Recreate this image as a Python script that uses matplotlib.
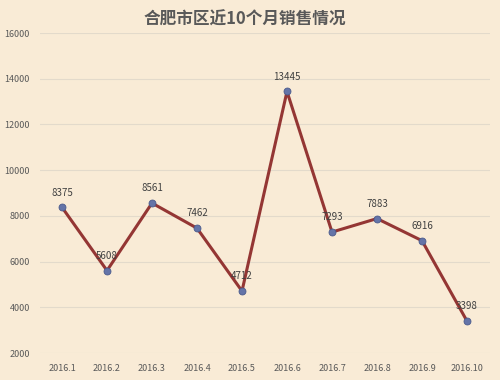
import matplotlib
matplotlib.use("Agg")
import matplotlib.pyplot as plt

plt.rcParams['font.family'] = ['Noto Sans CJK SC', 'DejaVu Sans']

months = ["2016.1", "2016.2", "2016.3", "2016.4", "2016.5",
          "2016.6", "2016.7", "2016.8", "2016.9", "2016.10"]
sales = [8375, 5608, 8561, 7462, 4712, 13445, 7293, 7883, 6916, 3398]
yticks = [2000, 4000, 6000, 8000, 10000, 12000, 14000, 16000]

bg = "#F9EBD6"
text_color = "#595959"

fig = plt.figure(figsize=(5, 3.8), dpi=100, facecolor=bg)
ax = fig.add_axes([0.079, 0.071, 0.9, 0.842], facecolor=bg)

x = list(range(len(months)))
ax.plot(x, sales, color="#943634", linewidth=2.2, marker="o", markersize=5,
        markerfacecolor="#6474A8", markeredgecolor="#4A5A8C", markeredgewidth=0.6,
        zorder=3)
for xi, v in zip(x, sales):
    ax.annotate(str(v), (xi, v), xytext=(0, 7), textcoords="offset points",
                ha="center", va="bottom", fontsize=7, color="#404040")

ax.set_xlim(-0.5, len(months) - 0.5)
ax.set_ylim(2000, 16000)
ax.set_yticks(yticks)
ax.set_yticklabels([str(t) for t in yticks])
ax.set_xticks(x)
ax.set_xticklabels(months)
ax.tick_params(axis="both", length=0, labelsize=6.5, labelcolor=text_color)
ax.tick_params(axis="y", pad=7)
ax.tick_params(axis="x", pad=8)
ax.grid(axis="y", color="#E3DACB", linewidth=0.8)
ax.set_axisbelow(True)
for s in ax.spines.values():
    s.set_visible(False)

fig.text(0.49, 0.948, "合肥市区近10个月销售情况", ha="center", va="center",
         fontsize=12, fontweight="bold", color=text_color)

fig.savefig("out.png", dpi=100, facecolor=bg)
